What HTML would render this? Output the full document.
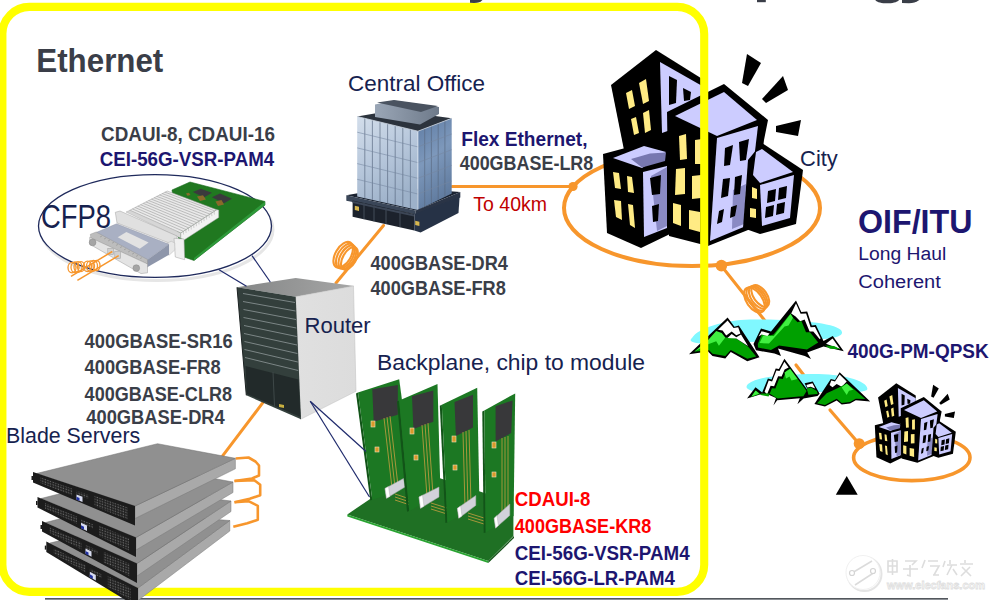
<!DOCTYPE html>
<html><head><meta charset="utf-8"><title>Ethernet Ecosystem Topology</title>
<style>
html,body{margin:0;padding:0;background:#fff;width:993px;height:600px;overflow:hidden}
svg{display:block}
text{font-family:"Liberation Sans",sans-serif}
</style></head><body>
<svg width="993" height="600" viewBox="0 0 993 600">
<!-- lines -->
<g fill="none" stroke="#f7962c" stroke-linecap="round" stroke-linejoin="round">
  <!-- CO to city -->
  <line x1="452" y1="186.5" x2="573" y2="186.5" stroke-width="3"/>
  <!-- city ellipse -->
  <ellipse cx="692" cy="208" rx="128" ry="58" stroke-width="4"/>
  <!-- router to CO -->
  <line x1="336" y1="283" x2="383.5" y2="225.5" stroke-width="3"/>
  <!-- router to blades -->
  <line x1="222.8" y1="455.7" x2="262.5" y2="403.2" stroke-width="3"/>
  <!-- city to mountains -->
  <polyline points="721.3,265.7 766,322" stroke-width="3"/>
  <line x1="796" y1="365" x2="806" y2="378" stroke-width="3.2"/>
  <line x1="830" y1="410" x2="859" y2="443.7" stroke-width="3.2"/>
  <!-- small city ellipse -->
  <ellipse cx="911.8" cy="457.6" rx="58.2" ry="23" stroke-width="3.6"/>
</g>
<g fill="#f7962c">
  <circle cx="573" cy="186.5" r="4.6"/>
  <circle cx="721.4" cy="265.6" r="5.8"/>
  <circle cx="859.2" cy="443.7" r="5.5"/>
</g>
<!-- coils -->
<g fill="none" stroke="#f7962c" stroke-width="2.1">
  <g transform="translate(346.3,256.6) rotate(30)">
    <ellipse cx="-3.6" cy="0" rx="7.8" ry="14.2"/>
    <ellipse cx="-1.2" cy="0" rx="7.4" ry="13.6"/>
    <ellipse cx="1.2" cy="0" rx="7" ry="13"/>
    <ellipse cx="3.6" cy="0" rx="6.6" ry="12.4"/>
  </g>
  <g transform="translate(757.3,298) rotate(-35)">
    <ellipse cx="-3.6" cy="0" rx="7.8" ry="14.2"/>
    <ellipse cx="-1.2" cy="0" rx="7.4" ry="13.6"/>
    <ellipse cx="1.2" cy="0" rx="7" ry="13"/>
    <ellipse cx="3.6" cy="0" rx="6.6" ry="12.4"/>
  </g>
</g>

<!-- cfp8 -->
<!-- ellipse shadow + outline -->
<ellipse cx="157" cy="229.5" rx="116" ry="51" fill="none" stroke="#e6e6e6" stroke-width="3"/>
<ellipse cx="155" cy="226" rx="116.5" ry="51.4" fill="#ffffff" stroke="#1f2a5c" stroke-width="1.3"/>
<!-- PCB -->
<polygon points="172,190 190,182 265,201.5 265,205 194,260.5 184,257 178,236" fill="#207820" stroke="#1a6a1e" stroke-width="0.6"/>
<polygon points="265,201.5 265,205 194,260.5 194,258" fill="#2e9a3a"/>
<!-- chips -->
<polygon points="192.8,192.1 200.8,188.7 211.9,192.7 203.9,197.6" fill="#3a3a3d"/>
<polygon points="211.9,197.2 220,193.5 232,198.8 224,203.2" fill="#3a3a3d"/>
<g fill="#8a6a2a">
  <polygon points="197,196.5 203,195.2 206,199.5 200,201"/>
  <polygon points="215.5,201.5 221.5,200 224,204.5 218,206"/>
  <polygon points="186,193.5 189,192.8 190.5,195 187.5,195.8"/>
</g>
<!-- heatsink base/right face -->
<polygon points="180.7,233 216.7,209.7 218.7,210 218.7,217.5 184,240 180.7,238" fill="#f2f2f2" stroke="#a9a9a9" stroke-width="0.5"/>
<g stroke="#b4b4b4" stroke-width="0.6"><line x1="183.3" y1="231.3" x2="183.6" y2="234.5"/><line x1="185.8" y1="229.7" x2="186.1" y2="232.9"/><line x1="188.4" y1="228.0" x2="188.7" y2="231.2"/><line x1="191.0" y1="226.3" x2="191.3" y2="229.5"/><line x1="193.6" y1="224.7" x2="193.9" y2="227.9"/><line x1="196.1" y1="223.0" x2="196.4" y2="226.2"/><line x1="198.7" y1="221.3" x2="199.0" y2="224.5"/><line x1="201.3" y1="219.7" x2="201.6" y2="222.9"/><line x1="203.8" y1="218.0" x2="204.1" y2="221.2"/><line x1="206.4" y1="216.4" x2="206.7" y2="219.6"/><line x1="209.0" y1="214.7" x2="209.3" y2="217.9"/><line x1="211.6" y1="213.0" x2="211.9" y2="216.2"/><line x1="214.1" y1="211.4" x2="214.4" y2="214.6"/></g>
<!-- heatsink top (fins) -->
<polygon points="129.7,210.3 167.3,191 216.7,209.7 180.7,233" fill="#e9e9e9" stroke="#9c9c9c" stroke-width="0.5"/>
<g stroke="#a8a8a8" stroke-width="0.7">
  <line x1="132.4" y1="208.9" x2="183.4" y2="231.3"/>
  <line x1="135.1" y1="207.5" x2="186.1" y2="229.6"/>
  <line x1="137.8" y1="206.1" x2="188.8" y2="227.9"/>
  <line x1="140.5" y1="204.7" x2="191.5" y2="226.2"/>
  <line x1="143.2" y1="203.3" x2="194.2" y2="224.5"/>
  <line x1="145.9" y1="201.9" x2="196.9" y2="222.8"/>
  <line x1="148.6" y1="200.5" x2="199.6" y2="221.1"/>
  <line x1="151.3" y1="199.1" x2="202.3" y2="219.4"/>
  <line x1="154.0" y1="197.7" x2="205.0" y2="217.7"/>
  <line x1="156.7" y1="196.3" x2="207.7" y2="216.0"/>
  <line x1="159.4" y1="194.9" x2="210.4" y2="214.3"/>
  <line x1="162.1" y1="193.5" x2="213.1" y2="212.6"/>
  <line x1="164.8" y1="192.1" x2="215.0" y2="211.0"/>
</g>
<!-- cage top band -->
<polygon points="126,212 130,210.3 180.7,233 180.7,238 176,236" fill="#d6d6d6" stroke="#a0a0a0" stroke-width="0.4"/>
<!-- flange -->
<polygon points="115.3,212.3 120,211 177,236 177,246 117,223" fill="#e0e0e0" stroke="#a0a0a0" stroke-width="0.5"/>
<polygon points="174,238.3 184,239 184.7,259.7 175.3,257" fill="#f0f0f0" stroke="#a0a0a0" stroke-width="0.5"/>
<!-- collar -->
<polygon points="165.5,243.6 171.3,241.3 174.8,243 174.8,250 169,255.3 165.5,252.3" fill="#e8e8e8" stroke="#a8a8a8" stroke-width="0.4"/>
<!-- module body -->
<polygon points="145.7,261.1 169,244.2 169,254.7 146.8,267.5" fill="#8e96aa"/>
<polygon points="96.1,232.5 116.5,223.8 169,244.2 145.7,261.1" fill="#a9b0c3" stroke="#8a90a0" stroke-width="0.4"/>
<polygon points="117.7,237.2 126.4,231.9 148.6,242.4 139.8,248.8" fill="#e2e2e2"/>
<!-- handle -->
<polygon points="90.3,234.3 96.1,232 147.5,259.5 147.5,264 90.8,238.3" fill="#bdbdbd" stroke="#8f8f8f" stroke-width="0.4"/>
<g stroke="#8a8a8a" stroke-width="0.5">
  <line x1="100" y1="237" x2="102" y2="236"/><line x1="104" y1="239" x2="106" y2="238"/><line x1="108" y1="241" x2="110" y2="240"/>
  <line x1="112" y1="243.2" x2="114" y2="242.2"/><line x1="116" y1="245.4" x2="118" y2="244.4"/><line x1="120" y1="247.6" x2="122" y2="246.6"/>
  <line x1="124" y1="249.8" x2="126" y2="248.8"/><line x1="128" y1="252" x2="130" y2="251"/><line x1="132" y1="254.2" x2="134" y2="253.2"/>
  <line x1="136" y1="256.4" x2="138" y2="255.4"/><line x1="140" y1="258.6" x2="142" y2="257.6"/>
</g>
<polygon points="89.7,237.2 147.5,264 147.5,272.8 141,273.6 89.7,244.2" fill="#e4e4e4" stroke="#9a9a9a" stroke-width="0.5"/>
<rect x="107.8" y="248.3" width="5.8" height="6.4" fill="#d0d0d0" stroke="#a0a0a0" stroke-width="0.5" transform="skewY(0)"/>
<rect x="114.8" y="251.2" width="5.8" height="7.5" fill="#d0d0d0" stroke="#a0a0a0" stroke-width="0.5"/>
<circle cx="92.6" cy="242.4" r="3.4" fill="#a5a5a5" stroke="#808080" stroke-width="0.4"/>
<circle cx="136.3" cy="268.1" r="3.4" fill="#a5a5a5" stroke="#808080" stroke-width="0.4"/>
<!-- fiber + coils -->
<g stroke="#f7962c" fill="none">
  <line x1="112.3" y1="251.5" x2="71" y2="276.3" stroke-width="1.5"/>
  <line x1="118.7" y1="255.6" x2="77.4" y2="280.4" stroke-width="1.5"/>
  <g stroke-width="1.3">
    <ellipse cx="72" cy="267.6" rx="4" ry="5.3"/><ellipse cx="75" cy="267.3" rx="4" ry="5.3"/><ellipse cx="78" cy="267" rx="4" ry="5.3"/><ellipse cx="81" cy="266.7" rx="3.5" ry="5"/>
    <ellipse cx="87.5" cy="266.4" rx="4" ry="5.3"/><ellipse cx="90.5" cy="266.1" rx="4" ry="5.3"/><ellipse cx="93.5" cy="265.8" rx="4" ry="5.3"/><ellipse cx="96.5" cy="265.5" rx="3.5" ry="5"/>
  </g>
</g>

<!-- co -->
<defs>
  <linearGradient id="coL" x1="0" y1="0" x2="0.4" y2="1">
    <stop offset="0" stop-color="#d3deeb"/><stop offset="0.5" stop-color="#b8c8dc"/><stop offset="1" stop-color="#9db1c9"/>
  </linearGradient>
  <linearGradient id="coR" x1="0" y1="0" x2="0.3" y2="1">
    <stop offset="0" stop-color="#5f7ca4"/><stop offset="0.5" stop-color="#7d98bb"/><stop offset="1" stop-color="#607b9f"/>
  </linearGradient>
  <linearGradient id="roofF" x1="0" y1="0" x2="1" y2="0">
    <stop offset="0" stop-color="#9aa6b6"/><stop offset="1" stop-color="#6e7a8a"/>
  </linearGradient>
</defs>
<!-- rim top -->
<polygon points="346.3,195.3 393,187 460.3,192.1 415.6,210.4" fill="#1a2230"/>
<!-- tower -->
<polygon points="357.2,116.5 417.9,131.2 417.9,210 357.2,196.5" fill="url(#coL)"/>
<polygon points="417.9,131.2 451.7,118.3 451.7,193.5 417.9,210" fill="url(#coR)"/>
<g stroke="#5a6a82" stroke-width="0.8" opacity="0.85">
  <line x1="364.8" y1="118.3" x2="364.8" y2="198.2"/><line x1="372.4" y1="120.2" x2="372.4" y2="199.9"/>
  <line x1="380" y1="122" x2="380" y2="201.6"/><line x1="387.6" y1="123.8" x2="387.6" y2="203.3"/>
  <line x1="395.2" y1="125.7" x2="395.2" y2="205"/><line x1="402.8" y1="127.5" x2="402.8" y2="206.7"/>
  <line x1="410.4" y1="129.4" x2="410.4" y2="208.4"/>
  <line x1="424.7" y1="128.6" x2="424.7" y2="206.7"/><line x1="431.4" y1="126" x2="431.4" y2="203.4"/>
  <line x1="438.2" y1="123.5" x2="438.2" y2="200.1"/><line x1="444.9" y1="120.9" x2="444.9" y2="196.8"/>
</g>
<g stroke="#7686a0" stroke-width="0.7" opacity="0.8">
  <line x1="357.2" y1="132.2" x2="417.9" y2="146.9"/><line x1="357.2" y1="147.9" x2="417.9" y2="162.6"/>
  <line x1="357.2" y1="163.6" x2="417.9" y2="178.3"/><line x1="357.2" y1="179.3" x2="417.9" y2="194"/>
  <line x1="417.9" y1="146.9" x2="451.7" y2="134"/><line x1="417.9" y1="162.6" x2="451.7" y2="149.7"/>
  <line x1="417.9" y1="178.3" x2="451.7" y2="165.4"/><line x1="417.9" y1="194" x2="451.7" y2="181.1"/>
</g>
<line x1="417.9" y1="131.2" x2="417.9" y2="210" stroke="#e8eef6" stroke-width="0.8"/>
<!-- rim faces -->
<polygon points="346.3,195.3 415.6,210.4 415.6,214.5 346.3,200.8" fill="#3a4658"/>
<polygon points="415.6,210.4 460.3,192.1 460.3,197.5 415.6,214.5" fill="#2a3446"/>
<!-- lobby -->
<polygon points="352.6,200.5 414.3,214 414.3,230.5 352.6,216.7" fill="#1c222c"/>
<g stroke="#4e5866" stroke-width="0.8">
  <line x1="364" y1="203" x2="364" y2="219.2"/><line x1="374" y1="205.2" x2="374" y2="221.4"/>
  <line x1="386" y1="207.8" x2="386" y2="224"/><line x1="400" y1="210.9" x2="400" y2="227.1"/>
</g>
<polygon points="352.6,201 414,214.5 414,216.5 352.6,203" fill="#3c4656"/>
<polygon points="414.3,214 459.6,197 458.5,213 420.6,232.4 414.3,230.5" fill="#263246"/>
<polygon points="354.8,205.8 359,206.7 359,211 354.8,210.1" fill="#d6b64e"/>
<polygon points="415.2,220.8 419.4,221.7 419.4,226 415.2,225.1" fill="#d6b64e"/>
<!-- tower top rim -->
<polygon points="357.2,116.5 393.3,110.2 451.7,118.3 417.9,131.2" fill="#2c333d"/>
<polyline points="357.2,116.5 417.9,131.2 451.7,118.3" fill="none" stroke="#c8d2de" stroke-width="0.8"/>
<!-- roof box -->
<polygon points="375,104.5 394,100.5 439,107 439,114 420,124.5 375,117" fill="url(#roofF)"/>
<polygon points="377,102.5 394,100 438,106 421,112 " fill="#4a5360"/>

<!-- city -->
<g id="city">
<!-- rays -->
<g fill="#000">
  <polygon points="747,54 761,63 748,86 742,83"/>
  <polygon points="783,76 788,90 766,103 762,99"/>
  <polygon points="801,120 798,136 776,132 776,126"/>
</g>
<!-- Building A -->
<polygon points="611,85 656,50 704,80 704,150 624,150" fill="#000"/>
<polygon points="660,62 704,87 704,118 662,133" fill="#ccccff"/>
<polygon points="669,76 677,80 676,103 669,105" fill="#000"/>
<polygon points="683,88 691,92 690,100 684,101" fill="#000"/>
<g fill="#ffeb84">
  <polygon points="626,93 632,90 635,106 629,109"/>
  <polygon points="639,83 646,79 649,101 643,104"/>
  <polygon points="631,119 636,117 639,133 634,135"/>
  <polygon points="643,113 649,110 651,130 645,133"/>
</g>
<!-- Building B -->
<polygon points="603,154 644,143 670,150 670,234 641,248 607,233" fill="#000"/>
<polygon points="613,158 644,146 666,152 642,168" fill="#ccccff"/>
<polygon points="631,159 650,153.5 666,152.5 665,161 642,167.5" fill="#7878b0"/>
<polygon points="643,172 667,166 667,228 644,237" fill="#ccccff"/>
<polygon points="651,176 667,167 667,226 657,231" fill="#8a8ac4"/>
<polygon points="650,178 661,175 660,194 652,195" fill="#000"/>
<polygon points="652,206 659,204 658,221 653,222" fill="#000"/>
<g fill="#ffeb84">
  <polygon points="613,172 619,173 621,189 615,188"/>
  <polygon points="627,176 632,177 634,193 628,192"/>
  <polygon points="614,200 621,201 622,220 616,217"/>
  <polygon points="628,204 633,205 635,228 630,225"/>
</g>
<!-- Building C -->
<polygon points="667,112 724,84 768,120 764,140 753,228 708,246 669,236" fill="#000"/>
<polygon points="675,116 724,92 757,120 717,136" fill="#ccccff"/>
<polygon points="717,138 758,126 746,226 710,241" fill="#ccccff"/>
<polygon points="733,190 746,184 744,224 732,229" fill="#8a8ac4"/>
<g fill="#000">
  <polygon points="725,148 733,145 730,165 724,166"/>
  <polygon points="739,142 749,139 746,160 740,161"/>
  <polygon points="723,179 730,178 728,196 721,198"/>
  <polygon points="735,177 742,175 740,194 734,195"/>
  <polygon points="719,211 724,209 722,222 717,224"/>
  <polygon points="731,207 737,205 735,216 730,218"/>
</g>
<g fill="#ffeb84">
  <polygon points="679,136 686,134 687,159 680,160"/>
  <polygon points="695,140 702,139 702,164 695,164"/>
  <polygon points="676,169 685,168 685,194 675,195"/>
  <polygon points="692,176 701,175 701,198 692,199"/>
  <polygon points="673,203 681,205 681,226 673,223"/>
  <polygon points="689,210 700,212 700,232 689,229"/>
</g>
<!-- Building D -->
<polygon points="748,160 762,143 803,170 796,224 760,234 743,228" fill="#000"/>
<polygon points="756,152 762,149 793,172 760,183 753,175" fill="#ccccff"/>
<polygon points="760,185 794,175 790,218 762,226" fill="#ccccff"/>
<g fill="#000">
  <polygon points="768,191 776,189 775,201 767,203"/>
  <polygon points="779,188 787,186 786,198 778,200"/>
  <polygon points="766,207 774,205 773,216 765,218"/>
  <polygon points="777,204 785,202 784,213 776,215"/>
</g>
<g fill="#ffeb84">
  <polygon points="752,187 757,189 757,199 752,198"/>
  <polygon points="750,208 756,209 756,218 750,217"/>
</g>
</g>

<!-- router -->
<defs>
  <linearGradient id="rtTop" x1="0" y1="0" x2="1" y2="0">
    <stop offset="0" stop-color="#858787"/><stop offset="1" stop-color="#a6a6a6"/>
  </linearGradient>
  <linearGradient id="rtSide" x1="0" y1="0" x2="1" y2="0">
    <stop offset="0" stop-color="#e0e0e0"/><stop offset="1" stop-color="#dcdcdc"/>
  </linearGradient>
</defs>
<polygon points="237,287.3 295.7,278 354.3,286 295.7,296.7" fill="url(#rtTop)"/>
<polygon points="295.7,296.7 353.5,286 356,391.3 300.5,419.3" fill="url(#rtSide)" stroke="#bdbdbd" stroke-width="0.5"/>
<polygon points="237,287.3 295.7,296.7 301,419.3 246.3,395.3" fill="#333f3c"/>
<g stroke="#7c8686" stroke-width="1">
  <line x1="243" y1="293.5" x2="295" y2="302.5"/>
  <line x1="243" y1="301.5" x2="295.5" y2="311"/>
  <line x1="243.5" y1="309.5" x2="296" y2="319.5"/>
  <line x1="243.5" y1="317.5" x2="296.3" y2="328"/>
  <line x1="244" y1="325.5" x2="296.7" y2="336.5"/>
  <line x1="244" y1="333.5" x2="297" y2="345"/>
  <line x1="244.5" y1="341.5" x2="297.4" y2="353.5"/>
  <line x1="244.5" y1="349.5" x2="297.8" y2="362"/>
  <line x1="245" y1="357.5" x2="298.2" y2="370.5"/>
</g>
<polygon points="245.5,366 298.5,379.5 300.5,417 247,394" fill="#222a2a"/>
<line x1="273" y1="372" x2="274.5" y2="406" stroke="#3e4848" stroke-width="1"/>
<polygon points="279,404 284,405 284,408 279,407" fill="#c8b040"/>
<line x1="237" y1="287.3" x2="246.3" y2="395.3" stroke="#1c2222" stroke-width="1"/>

<!-- backplane -->
<!-- base board -->
<polygon points="347.3,514.4 413.7,469.6 513.4,502.5 513.4,536 488.3,561" fill="#1f7024"/>
<polygon points="347.3,514.4 488.3,561 488.3,563 347.3,516.5" fill="#2aa432"/>
<polygon points="488.3,561 514,536 514,538 488.3,563" fill="#17561b"/>
<!-- traces on base -->
<g stroke="#c8a040" stroke-width="0.8">
  <line x1="395" y1="494" x2="410" y2="499"/><line x1="395" y1="497" x2="410" y2="502"/><line x1="395" y1="500" x2="410" y2="505"/>
  <line x1="431" y1="503" x2="447" y2="508"/><line x1="431" y1="506" x2="447" y2="511"/><line x1="431" y1="509" x2="447" y2="514"/>
  <line x1="468" y1="513" x2="484" y2="518"/><line x1="468" y1="516" x2="484" y2="521"/><line x1="468" y1="519" x2="484" y2="524"/>
</g>
<!-- card template drawn 4 times -->
<!-- Card 1 -->
<polygon points="356,393.5 358,392.6 372.3,499.8 370.3,500.5" fill="#125418"/>
<polygon points="358,392.6 399.2,379.3 413.5,486.5 372.3,499.8" fill="#1c7823"/>
<polygon points="372.3,389.2 397.8,384.9 397.8,414.7 373.7,421.8" fill="#38383a"/>
<g stroke="#c8a040" stroke-width="0.8"><line x1="384" y1="418" x2="392" y2="488"/><line x1="387" y1="417" x2="395" y2="487"/><line x1="390" y1="416" x2="398" y2="486"/></g>
<rect x="371" y="421" width="4" height="6" fill="#d89a2a" stroke="#f0e0c0" stroke-width="0.6"/>
<rect x="375" y="447" width="4" height="5" fill="#d89a2a" stroke="#f0e0c0" stroke-width="0.6"/>
<polygon points="385,488.4 403.5,478.5 405,487 386.5,498.3" fill="#d2d2da" stroke="#a8a8a8" stroke-width="0.5"/>
<polygon points="385,488.4 388.5,486.5 390,496.4 386.5,498.3" fill="#ffffff" stroke="#a8a8a8" stroke-width="0.4"/>
<!-- Card 2 -->
<polygon points="397,401.5 399.2,400.5 409.2,511 407,511.8" fill="#125418"/>
<polygon points="399.2,400.5 437.5,384.1 440.5,494.6 409.2,511" fill="#1c7823"/>
<polygon points="412,396.3 433.3,390.6 433.3,421.8 413.4,428.9" fill="#38383a"/>
<g stroke="#c8a040" stroke-width="0.8"><line x1="422" y1="425" x2="427" y2="497"/><line x1="425" y1="424" x2="430" y2="496"/><line x1="428" y1="423" x2="433" y2="495"/></g>
<rect x="410" y="428" width="4" height="6" fill="#d89a2a" stroke="#f0e0c0" stroke-width="0.6"/>
<rect x="414" y="455" width="4" height="5" fill="#d89a2a" stroke="#f0e0c0" stroke-width="0.6"/>
<polygon points="419,497 439,487 439,497 420.5,508.3" fill="#d2d2da" stroke="#a8a8a8" stroke-width="0.5"/>
<polygon points="419,497 422.5,495.2 424,506.3 420.5,508.3" fill="#ffffff" stroke="#a8a8a8" stroke-width="0.4"/>
<!-- Card 3 -->
<polygon points="439.8,405.8 441.8,404.8 447.4,522.4 445.4,523" fill="#125418"/>
<polygon points="441.8,404.8 477.2,387.8 479.5,505.4 447.4,522.4" fill="#1c7823"/>
<polygon points="454.5,401.9 473,394.8 473,427.5 455.9,436" fill="#38383a"/>
<g stroke="#c8a040" stroke-width="0.8"><line x1="463" y1="432" x2="465" y2="507"/><line x1="466" y1="431" x2="468" y2="506"/><line x1="469" y1="430" x2="471" y2="505"/></g>
<rect x="452" y="436" width="4" height="6" fill="#d89a2a" stroke="#f0e0c0" stroke-width="0.6"/>
<rect x="453" y="465" width="4" height="5" fill="#d89a2a" stroke="#f0e0c0" stroke-width="0.6"/>
<polygon points="457.4,508.3 475.8,495.5 475.8,505.4 458.8,518.2" fill="#d2d2da" stroke="#a8a8a8" stroke-width="0.5"/>
<polygon points="457.4,508.3 460.6,506 462,516 458.8,518.2" fill="#ffffff" stroke="#a8a8a8" stroke-width="0.4"/>
<!-- Card 4 -->
<polygon points="482.3,411.4 484.3,410.4 485.7,532.4 483.7,533" fill="#125418"/>
<polygon points="484.3,410.4 515.2,393.4 513.6,516 485.7,532.4" fill="#1c7823"/>
<polygon points="495.6,406.2 512.6,400.5 511.2,433.1 495.6,441.6" fill="#38383a"/>
<g stroke="#c8a040" stroke-width="0.8"><line x1="502" y1="438" x2="502" y2="512"/><line x1="505" y1="437" x2="505" y2="511"/><line x1="508" y1="436" x2="508" y2="510"/></g>
<rect x="492" y="442" width="4" height="6" fill="#d89a2a" stroke="#f0e0c0" stroke-width="0.6"/>
<rect x="492" y="472" width="4" height="5" fill="#d89a2a" stroke="#f0e0c0" stroke-width="0.6"/>
<polygon points="494.2,518.2 509.8,504 509.8,515.4 495.6,528.1" fill="#d2d2da" stroke="#a8a8a8" stroke-width="0.5"/>
<polygon points="494.2,518.2 497,515.6 498.4,525.6 495.6,528.1" fill="#ffffff" stroke="#a8a8a8" stroke-width="0.4"/>

<!-- mountains -->
<!-- Group 1 -->
<path d="M692,338 C698,328 725,320 750,319.5 C790,319.5 832,322 841,330 C846,337 832,339 812,340 L705,343.5 C693,343.5 688,341 692,338 Z" fill="#80f8ff"/>
<!-- mountain L -->
<polygon points="689,354.2 727.6,317.6 734.5,326.8 738.8,325.4 759.5,357.3 747.3,361.2 730.8,352 725.3,358.4 712.5,356 708,351.5" fill="#000"/>
<polygon points="694.2,351.7 707.9,340.2 716.2,337.5 726.2,337.5 736.3,338.4 748.2,346.7 756.2,356.5 747.3,358.8 730.8,350 725.3,356 712.5,353.8 708.8,350" fill="#00a000"/>
<polygon points="694.5,351.5 707.9,340.2 716.2,331.1 721.7,332.9 725.3,337.5 718.9,345.7 716.2,341.2 708.8,343.9" fill="#40f040"/>
<polygon points="718,329.7 727.6,320.4 733.6,328 738.2,327.2 740.4,333.6 736.3,335.2 731.7,331.5 726.2,335.4 722.6,330.4" fill="#fff"/>
<polygon points="727.5,338 731.7,334 736.3,337.3 741,334.5 748,346 736.3,338.6" fill="#fff"/>
<!-- mountain R -->
<polygon points="753.5,344 761,328.5 771,331.5 796,300.5 801.3,312 807.2,311.5 811.8,325.5 815.9,325 823.5,341 832.8,336 843.8,351.2 823.5,346.6 807.2,352.5 811,359 804.8,356 778,348.5 781,356 774.5,353.5 756,350.2" fill="#000"/>
<polygon points="791.2,313.5 796,303.6 800.6,313.8 806.1,313.6 810.6,327.2 815,327 820.6,338.2 819.8,339.2 813.3,331.6 809.6,331.6 804.6,319.6 800.2,321.2 795.6,316.4" fill="#fff"/>
<polygon points="757.8,344 762,333.8 770.5,335.3 773.5,334.5 790.5,313.5 793,317.8 797.6,322.3 801.4,321 806,332.2 810,332.2 818.2,342.4 807,349.4 779,345.6 771,350 758,347.6" fill="#00a000"/>
<polygon points="759.5,343 763,336 770.5,336 773.8,336 790.5,314 793,317.8 788.5,325.5 784.5,326.5 769,343.5" fill="#40f040"/>
<polygon points="758.6,336.4 761.6,331.2 769.6,333.6 767.4,336 761.8,334.6" fill="#fff"/>
<polygon points="826,343.8 832.6,338.4 840,349 " fill="#fff"/>
<polygon points="825,345.5 834,346 840.5,349.3 830,348.8" fill="#00a000"/>
<!-- Group 2 -->
<path d="M748,384 C756,378 772,376 790,375 C815,373 835,374 850,378 C862,381 869,386 867,390 C862,393 845,392 830,392 L760,392 C748,391 744,388 748,384 Z" fill="#80f8ff"/>
<!-- big mountain -->
<polygon points="747,398.5 755.5,387.3 762.2,392.4 767.9,378.6 771.6,379.5 775.7,368.5 778.9,369 784.4,358.8 808.6,391.6 804.6,383.3 812.8,381.4 819.6,393.8 817.5,396 803.6,398.4 797.4,404.3 799.8,398.2 777.2,400.2 773.4,405.6 776,398 768,394.6 760,394.6" fill="#000"/>
<polygon points="764.6,391.8 768.7,380.5 772.1,381.5 776.4,370.5 779.5,371 784.4,361.8 788.6,367.6 784.6,369.6 781.6,376.6 778.1,376.2 774.1,386.2 770.6,385.7 767.1,394.2" fill="#fff"/>
<polygon points="751,397 755.8,390.6 761.6,395.2 768.6,396.4 771.9,388.2 775.4,388.6 779.2,378.6 782.8,379 786.2,371 790.1,368.8 806.6,391 803.4,396.2 799,396.6 777.5,398.4 775.4,397.2 769.5,393.4 761.5,393.4" fill="#00a000"/>
<polygon points="784.5,372.5 790.1,369 797.5,379 791.5,380.6 789.5,376.6 786,378.6" fill="#40f040"/>
<polygon points="751.5,396.6 755.5,390.6 759.2,393.6" fill="#40f040"/>
<polygon points="806.4,385 812.4,383.2 815.2,388.6 810.6,386.8 807.4,387.6" fill="#fff"/>
<polygon points="806.8,388.4 811,387.6 816.8,391 817.8,394 808.4,394.8" fill="#00a000"/>
<!-- right mountain -->
<polygon points="814.4,404 830.8,379 835,380 839.6,372.3 870.2,401.4 855.8,400.2 850,403.5 841.7,404.5 836.7,400.4 825,406.6" fill="#000"/>
<polygon points="829.6,385 831.3,380.6 835,381.4 839.6,374.4 846.7,381.4 841.7,386.8 836.7,383.9 832.5,387.2" fill="#fff"/>
<polygon points="817,403.2 826.7,393.3 837.5,388.3 846.7,383.5 855,390 865.3,398.9 855.8,398.8 850,402 841.7,402.9 836.7,398.8 825,405" fill="#00a000"/>
<polygon points="841.7,387.6 846.7,383.5 853.3,389.8 849,390.8 846.7,395" fill="#40f040"/>

<!-- smallcity -->
<use href="#city" transform="matrix(0.405,0,0,0.405,630.6,363)"/>
<polygon points="846.7,476 835.8,494.8 857.7,494.8" fill="#000"/>

<!-- border -->
<rect x="2.4" y="6.85" width="701.8" height="585" rx="27" ry="27" fill="none" stroke="#ffff00" stroke-width="8.1"/>
<rect x="45" y="598" width="903" height="1" fill="#53575d"/>
<rect x="45" y="599" width="903" height="1" fill="#8b8f95"/>

<!-- blades -->
<defs><pattern id="grille" width="2.6" height="2.6" patternUnits="userSpaceOnUse" patternTransform="skewY(19)"><rect width="2.6" height="2.6" fill="#1e1e1e"/><rect x="0.5" y="0.5" width="1.3" height="1.3" fill="#6a6a6a"/></pattern></defs>
<polygon points="138.0,588.0 229.8,520.5 229.8,531.0 138.0,600.5" fill="#a9a9a9" stroke="#7a7a7a" stroke-width="0.5"/>
<polygon points="49.8,543.1 164.0,515.5 229.8,520.5 138.0,588.0" fill="#909090" stroke="#6e6e6e" stroke-width="0.5"/>
<polygon points="46.3,541.6 138.0,588.0 138.0,607.5 46.3,552.1" fill="#1c1c1c"/>
<polygon points="53.8,548.2 85.8,565.2 85.8,572.4 53.8,553.8" fill="url(#grille)"/>
<polygon points="89.8,568.0 101.8,574.5 101.8,578.5 89.8,571.7" fill="url(#grille)"/>
<polygon points="107.8,576.0 131.0,588.2 131.0,600.4 107.8,586.8" fill="url(#grille)"/>
<polygon points="89.8,571.7 95.8,575.1 95.8,580.5 89.8,576.9" fill="#d8dcf0"/>
<polygon points="89.8,574.2 92.8,576.0 92.8,579.0 89.8,577.2" fill="#2030a0"/>
<polygon points="44.8,545.6 46.3,545.6 46.3,549.6 44.8,549.6" fill="#1c1c1c"/>
<polygon points="137.0,563.5 231.0,501.0 231.0,511.5 137.0,576.0" fill="#a9a9a9" stroke="#7a7a7a" stroke-width="0.5"/>
<polygon points="45.5,522.5 162.0,492.5 231.0,501.0 137.0,563.5" fill="#909090" stroke="#6e6e6e" stroke-width="0.5"/>
<polygon points="42.0,521.0 137.0,563.5 137.0,583.0 42.0,531.5" fill="#1c1c1c"/>
<polygon points="49.5,527.2 81.5,542.2 81.5,549.4 49.5,532.8" fill="url(#grille)"/>
<polygon points="85.5,544.8 97.5,550.6 97.5,554.5 85.5,548.5" fill="url(#grille)"/>
<polygon points="103.5,551.8 130.0,564.1 130.0,576.4 103.5,562.4" fill="url(#grille)"/>
<polygon points="85.5,548.5 91.5,551.5 91.5,556.8 85.5,553.6" fill="#d8dcf0"/>
<polygon points="85.5,551.0 88.5,552.5 88.5,555.5 85.5,553.9" fill="#2030a0"/>
<polygon points="40.5,525.0 42.0,525.0 42.0,529.0 40.5,529.0" fill="#1c1c1c"/>
<polygon points="136.0,537.5 233.0,482.0 233.0,492.5 136.0,550.0" fill="#a9a9a9" stroke="#7a7a7a" stroke-width="0.5"/>
<polygon points="41.0,498.5 160.0,468.5 233.0,482.0 136.0,537.5" fill="#909090" stroke="#6e6e6e" stroke-width="0.5"/>
<polygon points="37.5,497.0 136.0,537.5 136.0,557.0 37.5,507.5" fill="#1c1c1c"/>
<polygon points="45.0,502.9 77.0,516.8 77.0,523.8 45.0,508.5" fill="url(#grille)"/>
<polygon points="81.0,519.2 93.0,524.5 93.0,528.4 81.0,522.8" fill="url(#grille)"/>
<polygon points="99.0,525.5 129.0,538.4 129.0,550.7 99.0,536.0" fill="url(#grille)"/>
<polygon points="81.0,522.8 87.0,525.6 87.0,530.9 81.0,527.9" fill="#d8dcf0"/>
<polygon points="81.0,525.3 84.0,526.7 84.0,529.7 81.0,528.2" fill="#2030a0"/>
<polygon points="36.0,501.0 37.5,501.0 37.5,505.0 36.0,505.0" fill="#1c1c1c"/>
<polygon points="135.0,506.0 235.4,458.3 235.4,468.8 135.0,518.5" fill="#a9a9a9" stroke="#7a7a7a" stroke-width="0.5"/>
<polygon points="36.5,473.5 157.5,443.7 235.4,458.3 135.0,506.0" fill="#909090" stroke="#6e6e6e" stroke-width="0.5"/>
<polygon points="33.0,472.0 135.0,506.0 135.0,525.5 33.0,482.5" fill="#1c1c1c"/>
<polygon points="40.5,477.3 72.5,488.7 72.5,495.7 40.5,482.9" fill="url(#grille)"/>
<polygon points="76.5,490.8 88.5,495.1 88.5,499.0 76.5,494.4" fill="url(#grille)"/>
<polygon points="94.5,495.7 128.0,507.4 128.0,519.7 94.5,506.0" fill="url(#grille)"/>
<polygon points="76.5,494.4 82.5,496.7 82.5,501.9 76.5,499.4" fill="#d8dcf0"/>
<polygon points="76.5,496.8 79.5,498.0 79.5,500.9 76.5,499.7" fill="#2030a0"/>
<polygon points="31.5,476.0 33.0,476.0 33.0,480.0 31.5,480.0" fill="#1c1c1c"/>
<g fill="none" stroke="#f7962c" stroke-width="2.6" stroke-linejoin="round">
<polyline points="235.7,458.5 248.5,457.5 255.5,461.5 259,465.5 259,475.5 252,478.5 234.5,481"/>
<polyline points="234.5,481 254.3,480.2 260.2,484.8 260.2,495.3 249.7,498.8 234.5,502.3"/>
<polyline points="234.5,502.3 248.5,501.2 257.8,505.8 257.8,519.8 247.3,523.3 233.3,526.8"/>
</g>
<!-- navy -->
<g stroke="#1f2a6c" stroke-width="1.2" fill="none">
  <line x1="219" y1="269.7" x2="246.5" y2="286.2"/>
  <line x1="252" y1="255.6" x2="270.3" y2="282"/>
  <line x1="310.2" y1="401.2" x2="366" y2="451.5"/>
  <line x1="310.2" y1="401.2" x2="369.5" y2="497"/>
</g>

<!-- misc -->
<!-- title descenders -->
<g fill="#3a3e48">
  <path d="M470,0 L482.5,0 C481,2 478,3 474,3 L470,2.8 Z"/>
  <rect x="757" y="0" width="8.8" height="2.2"/>
  <path d="M875.3,0 L899,0 C897,2.6 892,3.3 887,3.3 C882,3.3 877,2.6 875.3,0 Z"/>
  <path d="M902,0 L919.3,0 C916,2.5 913,3.2 909,3.2 L902,3 Z"/>
</g>
<!-- watermark -->
<g opacity="0.9">
  <circle cx="864.5" cy="574" r="17" fill="none" stroke="#e2e2e2" stroke-width="2"/>
  <circle cx="863" cy="572.5" r="17" fill="#fff" stroke="#f0f0f0" stroke-width="1"/>
  <path d="M852,573 L872,561 M855,585 L875,572" stroke="#d8d8d8" stroke-width="1.5" fill="none"/>
  <circle cx="852" cy="573" r="2.5" fill="#fff" stroke="#d0d0d0" stroke-width="1.2"/>
  <circle cx="873" cy="571" r="2.5" fill="#fff" stroke="#d0d0d0" stroke-width="1.2"/>
  <text x="887" y="589" font-size="11" font-weight="bold" fill="#fff" stroke="#dcdcdc" stroke-width="0.8" textLength="98" lengthAdjust="spacingAndGlyphs">www.elecfans.com</text>
  <g stroke="#dadada" stroke-width="1.6" fill="none">
    <path d="M888,561 h9 v11 h-9 z M888,566 h9 M892.5,559 v16"/>
    <path d="M905,561 h11 l-4,4 M910,565 v11 l-3,-1 M903,569 h15"/>
    <path d="M925,560 l-3,8 M928,561 h10 M930,566 h9 l-5,9 M933,575 l6,0"/>
    <path d="M945,561 l-2,6 M950,560 v4 M947,565 h10 M952,565 l-5,10 M953,569 l4,6"/>
    <path d="M965,560 v3 M960,564 h13 M962,567 l9,9 M970,567 l-9,9"/>
  </g>
</g>

<!-- text -->
<text x="36.3" y="71.7" font-size="32.70" font-weight="bold" fill="#3a3e48" textLength="127.0" lengthAdjust="spacingAndGlyphs">Ethernet</text>
<text x="101.1" y="140.8" font-size="19.40" font-weight="bold" fill="#3a3e48" textLength="173.8" lengthAdjust="spacingAndGlyphs">CDAUI-8, CDAUI-16</text>
<text x="99.7" y="166.4" font-size="19.40" font-weight="bold" fill="#1d1670" textLength="174.6" lengthAdjust="spacingAndGlyphs">CEI-56G-VSR-PAM4</text>
<text x="41.1" y="227.7" font-size="32.85" font-weight="normal" fill="#16224f" textLength="70.0" lengthAdjust="spacingAndGlyphs">CFP8</text>
<text x="348.1" y="90.8" font-size="22.60" font-weight="normal" fill="#16224f" textLength="136.9" lengthAdjust="spacingAndGlyphs">Central Office</text>
<text x="461.3" y="145.8" font-size="19.40" font-weight="bold" fill="#1d1670" textLength="126.2" lengthAdjust="spacingAndGlyphs">Flex Ethernet,</text>
<text x="459.7" y="169.7" font-size="19.40" font-weight="bold" fill="#3a3e48" textLength="133.6" lengthAdjust="spacingAndGlyphs">400GBASE-LR8</text>
<text x="473.3" y="210.8" font-size="20.06" font-weight="normal" fill="#c00000" textLength="73.7" lengthAdjust="spacingAndGlyphs">To 40km</text>
<text x="800.1" y="165.7" font-size="22.60" font-weight="normal" fill="#16224f" textLength="37.7" lengthAdjust="spacingAndGlyphs">City</text>
<text x="858.0" y="233.0" font-size="32.99" font-weight="bold" fill="#1d1670" textLength="114.5" lengthAdjust="spacingAndGlyphs">OIF/ITU</text>
<text x="858.3" y="260.3" font-size="18.80" font-weight="normal" fill="#1d1670" textLength="88.0" lengthAdjust="spacingAndGlyphs">Long Haul</text>
<text x="858.3" y="288.3" font-size="18.80" font-weight="normal" fill="#1d1670" textLength="82.5" lengthAdjust="spacingAndGlyphs">Coherent</text>
<text x="370.5" y="270.0" font-size="19.40" font-weight="bold" fill="#3a3e48" textLength="137.4" lengthAdjust="spacingAndGlyphs">400GBASE-DR4</text>
<text x="370.5" y="295.0" font-size="19.40" font-weight="bold" fill="#3a3e48" textLength="135.3" lengthAdjust="spacingAndGlyphs">400GBASE-FR8</text>
<text x="304.5" y="332.7" font-size="22.60" font-weight="normal" fill="#16224f" textLength="66.2" lengthAdjust="spacingAndGlyphs">Router</text>
<text x="84.6" y="347.8" font-size="19.40" font-weight="bold" fill="#3a3e48" textLength="148.1" lengthAdjust="spacingAndGlyphs">400GBASE-SR16</text>
<text x="84.6" y="374.4" font-size="19.40" font-weight="bold" fill="#3a3e48" textLength="136.1" lengthAdjust="spacingAndGlyphs">400GBASE-FR8</text>
<text x="84.6" y="400.5" font-size="19.40" font-weight="bold" fill="#3a3e48" textLength="147.4" lengthAdjust="spacingAndGlyphs">400GBASE-CLR8</text>
<text x="86.3" y="424.4" font-size="19.40" font-weight="bold" fill="#3a3e48" textLength="138.5" lengthAdjust="spacingAndGlyphs">400GBASE-DR4</text>
<text x="6.0" y="442.8" font-size="22.60" font-weight="normal" fill="#16224f" textLength="134.2" lengthAdjust="spacingAndGlyphs">Blade Servers</text>
<text x="377.0" y="370.4" font-size="22.60" font-weight="normal" fill="#16224f" textLength="268.0" lengthAdjust="spacingAndGlyphs">Backplane, chip to module</text>
<text x="514.8" y="505.5" font-size="19.40" font-weight="bold" fill="#ff0000" textLength="75.6" lengthAdjust="spacingAndGlyphs">CDAUI-8</text>
<text x="514.8" y="532.6" font-size="19.40" font-weight="bold" fill="#ff0000" textLength="136.5" lengthAdjust="spacingAndGlyphs">400GBASE-KR8</text>
<text x="514.8" y="559.5" font-size="19.40" font-weight="bold" fill="#1d1670" textLength="174.8" lengthAdjust="spacingAndGlyphs">CEI-56G-VSR-PAM4</text>
<text x="514.8" y="585.1" font-size="19.40" font-weight="bold" fill="#1d1670" textLength="160.1" lengthAdjust="spacingAndGlyphs">CEI-56G-LR-PAM4</text>
<text x="847.4" y="358.1" font-size="19.40" font-weight="bold" fill="#1d1670" textLength="141.3" lengthAdjust="spacingAndGlyphs">400G-PM-QPSK</text>
</svg>
</body></html>
